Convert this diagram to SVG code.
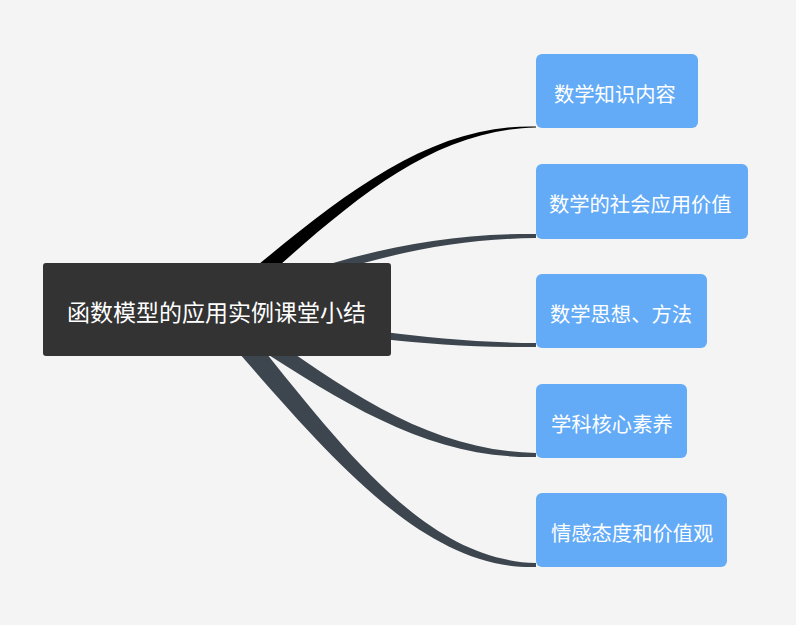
<svg xmlns="http://www.w3.org/2000/svg" width="796" height="625" viewBox="0 0 796 625">
<style>
.bg{fill:#f4f4f4}
.conn{fill:#3d464e;stroke:none}
.conn.first{fill:#000000}
.root rect{fill:#333333}
.child rect{fill:#63abf7}
text{font-family:"Noto Sans CJK SC","Noto Sans",sans-serif;fill:#ffffff}
.child text{font-size:20.3px}
.root text{font-size:23px}
</style>
<rect class="bg" x="0" y="0" width="796" height="625"/>
<g id="connectors">
<path class="conn first" d="M211.5,303.5 C326.2,208.6 420,123.8 536,126.5 L536,127.5 C420,130.2 333.8,217.4 222.5,316.5 Z"/>
<path class="conn" d="M215.2,304.8 C320,262 420,232.8 536,234 L536,238 C420,239.2 323,271 218.8,315.2 Z"/>
<path class="conn" d="M217.9,304.6 C330.7,324.2 420,341.8 536,343 L536,347 C420,348.2 329.3,332.8 216.1,315.4 Z"/>
<path class="conn" d="M222.1,302.6 C333.8,381.5 420,450.7 536,453 L536,457 C420,459.3 326.2,392.5 211.9,317.4 Z"/>
<path class="conn" d="M225.8,302.6 C336.4,439.7 420,559.8 536,563 L536,567 C420,570.2 323.6,450.3 208.2,317.4 Z"/>
</g>
<g id="root" class="root">
<rect x="43" y="263" width="348" height="93" rx="3"/>
<text x="67" y="320.5">函数模型的应用实例课堂小结</text>
</g>
<g id="n1" class="child">
<rect x="536" y="54" width="162" height="74" rx="6"/>
<text x="554" y="102">数学知识内容</text>
</g>
<g id="n2" class="child">
<rect x="536" y="164" width="212" height="75" rx="6"/>
<text x="549" y="211.7">数学的社会应用价值</text>
</g>
<g id="n3" class="child">
<rect x="536" y="274" width="171" height="74" rx="6"/>
<text x="550" y="322">数学思想、方法</text>
</g>
<g id="n4" class="child">
<rect x="536" y="384" width="151" height="74" rx="6"/>
<text x="551" y="432">学科核心素养</text>
</g>
<g id="n5" class="child">
<rect x="536" y="493" width="191" height="74" rx="6"/>
<text x="551" y="541">情感态度和价值观</text>
</g>
</svg>
